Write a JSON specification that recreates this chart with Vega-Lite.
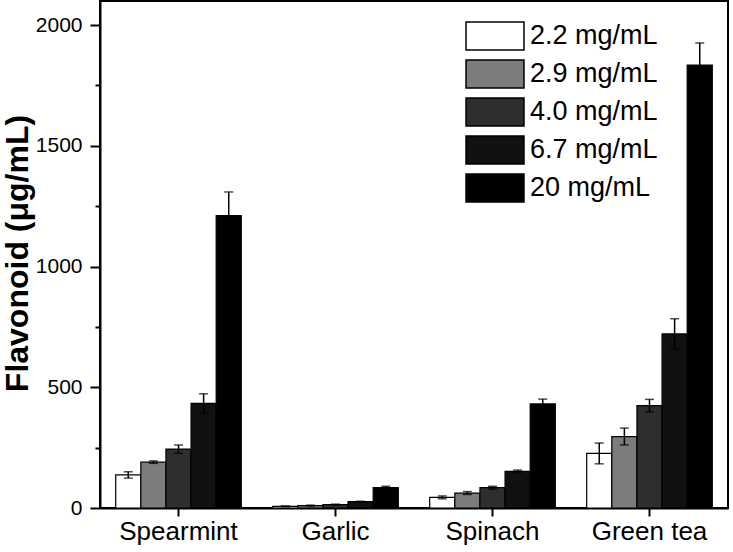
{
  "$schema": "https://vega.github.io/schema/vega-lite/v6.json",
  "width": 628,
  "height": 507,
  "autosize": {"type": "none"},
  "padding": {"left": 100, "top": 1, "right": 5, "bottom": 44},
  "background": "white",
  "config": {
    "font": "Liberation Sans",
    "view": {"stroke": "black", "strokeWidth": 2},
    "axis": {"domainColor": "black", "domainWidth": 2, "tickColor": "black", "tickWidth": 2, "labelColor": "black", "titleColor": "black", "grid": false}
  },
  "data": {"values": [
    {"food": "Spearmint", "conc": "2.2 mg/mL", "v": 137, "lo": 124, "hi": 150},
    {"food": "Spearmint", "conc": "2.9 mg/mL", "v": 190, "lo": 185, "hi": 195},
    {"food": "Spearmint", "conc": "4.0 mg/mL", "v": 244, "lo": 227, "hi": 261},
    {"food": "Spearmint", "conc": "6.7 mg/mL", "v": 433, "lo": 393, "hi": 473},
    {"food": "Spearmint", "conc": "20 mg/mL", "v": 1211, "lo": 1113, "hi": 1309},
    {"food": "Garlic", "conc": "2.2 mg/mL", "v": 7, "lo": 5, "hi": 9},
    {"food": "Garlic", "conc": "2.9 mg/mL", "v": 10, "lo": 8, "hi": 12},
    {"food": "Garlic", "conc": "4.0 mg/mL", "v": 14, "lo": 12, "hi": 16},
    {"food": "Garlic", "conc": "6.7 mg/mL", "v": 26, "lo": 24, "hi": 28},
    {"food": "Garlic", "conc": "20 mg/mL", "v": 84, "lo": 78, "hi": 90},
    {"food": "Spinach", "conc": "2.2 mg/mL", "v": 44, "lo": 38, "hi": 50},
    {"food": "Spinach", "conc": "2.9 mg/mL", "v": 62, "lo": 56, "hi": 68},
    {"food": "Spinach", "conc": "4.0 mg/mL", "v": 84, "lo": 78, "hi": 90},
    {"food": "Spinach", "conc": "6.7 mg/mL", "v": 152, "lo": 147, "hi": 157},
    {"food": "Spinach", "conc": "20 mg/mL", "v": 431, "lo": 411, "hi": 451},
    {"food": "Green tea", "conc": "2.2 mg/mL", "v": 226, "lo": 183, "hi": 269},
    {"food": "Green tea", "conc": "2.9 mg/mL", "v": 296, "lo": 261, "hi": 331},
    {"food": "Green tea", "conc": "4.0 mg/mL", "v": 424, "lo": 398, "hi": 450},
    {"food": "Green tea", "conc": "6.7 mg/mL", "v": 721, "lo": 658, "hi": 784},
    {"food": "Green tea", "conc": "20 mg/mL", "v": 1835, "lo": 1744, "hi": 1926}
  ]},
  "encoding": {
    "x": {
      "field": "food", "type": "nominal",
      "sort": ["Spearmint", "Garlic", "Spinach", "Green tea"],
      "scale": {"paddingInner": 0.2, "paddingOuter": 0.1},
      "axis": {"title": null, "labelAngle": 0, "labelFontSize": 26, "labelPadding": 2, "tickSize": 8}
    },
    "xOffset": {
      "field": "conc", "type": "nominal",
      "sort": ["2.2 mg/mL", "2.9 mg/mL", "4.0 mg/mL", "6.7 mg/mL", "20 mg/mL"],
      "scale": {"paddingInner": 0, "paddingOuter": 0}
    }
  },
  "layer": [
    {
      "mark": {"type": "bar", "stroke": "black", "strokeWidth": 1.2},
      "encoding": {
        "y": {
          "field": "v", "type": "quantitative",
          "scale": {"domain": [0, 2100], "nice": false},
          "axis": {
            "title": "Flavonoid (μg/mL)",
            "titleFontSize": 32, "titleFontWeight": "bold",
            "titleX": -83, "titleY": 252, "titleAngle": -90, "titleBaseline": "middle", "titleAlign": "center",
            "values": [0, 250, 500, 750, 1000, 1250, 1500, 1750, 2000],
            "labelExpr": "datum.value % 500 === 0 ? datum.label : ''",
            "tickSize": {"condition": {"test": "datum.value % 500 === 0", "value": 10}, "value": 5},
            "labelFontSize": 21, "labelPadding": 8, "format": "d"
          }
        },
        "fill": {
          "field": "conc", "type": "nominal",
          "sort": ["2.2 mg/mL", "2.9 mg/mL", "4.0 mg/mL", "6.7 mg/mL", "20 mg/mL"],
          "scale": {"range": ["#ffffff", "#7c7c7c", "#2e2e2e", "#111111", "#000000"]},
          "legend": {
            "title": null, "orient": "none", "legendX": 380, "legendY": 20, "padding": 0,
            "symbolType": "M-2.07,-1L2.07,-1L2.07,1L-2.07,1Z",
            "symbolSize": 784, "symbolStrokeColor": "black", "symbolStrokeWidth": 1.5, "symbolOpacity": 1,
            "labelFontSize": 27, "labelColor": "black", "labelOffset": 20, "rowPadding": 4, "labelLimit": 300
          }
        }
      }
    },
    {
      "mark": {"type": "rule", "color": "black", "strokeWidth": 1.5},
      "encoding": {
        "y": {"field": "lo", "type": "quantitative"},
        "y2": {"field": "hi"}
      }
    },
    {
      "mark": {"type": "tick", "color": "black", "thickness": 1.5, "size": 9},
      "encoding": {"y": {"field": "hi", "type": "quantitative"}}
    },
    {
      "mark": {"type": "tick", "color": "black", "thickness": 1.5, "size": 9},
      "encoding": {"y": {"field": "lo", "type": "quantitative"}}
    }
  ]
}
